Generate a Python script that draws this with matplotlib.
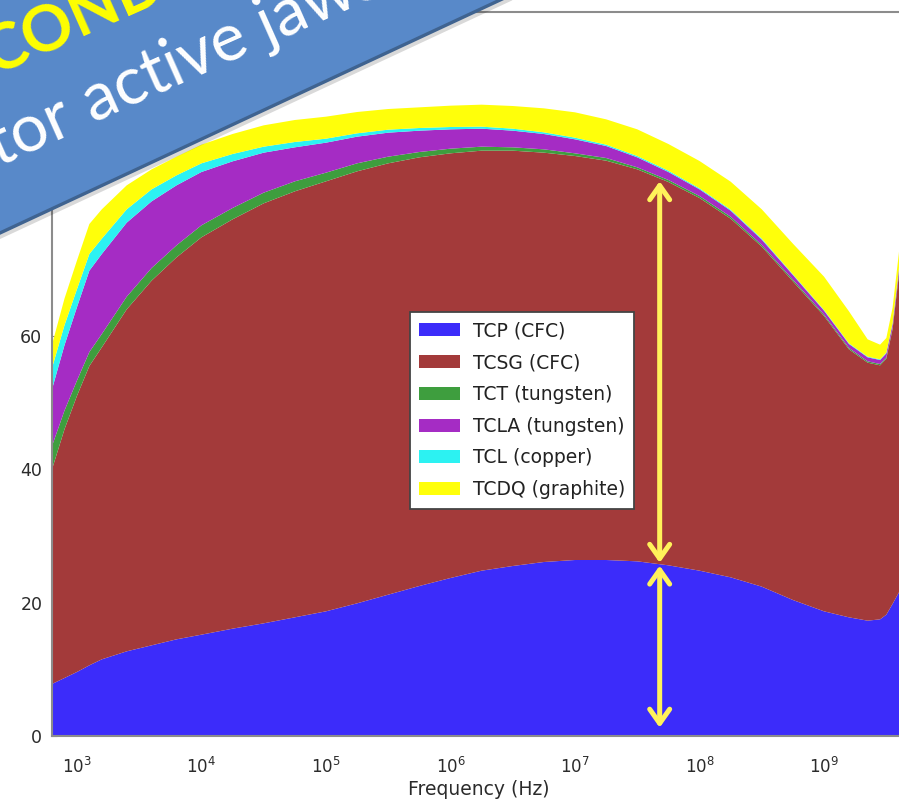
import numpy as np
import matplotlib
matplotlib.use('Agg')
import matplotlib.pyplot as plt
from matplotlib.patches import Polygon
from matplotlib.lines import Line2D
from matplotlib.transforms import Affine2D
from matplotlib.ticker import NullFormatter

# frequency grid as decade exponents
log_freq = [2.8, 2.9, 3.0, 3.1, 3.2, 3.4, 3.6, 3.8, 4.0, 4.25, 4.5, 4.75,
            5.0, 5.25, 5.5, 5.75, 6.0, 6.25, 6.5, 6.75, 7.0, 7.25, 7.5, 7.75,
            8.0, 8.25, 8.5, 8.75, 9.0, 9.2, 9.35, 9.45, 9.5, 9.55, 9.6, 9.65]

# contribution of each collimator family (stacked)
tcp = [7.8, 8.7, 9.6, 10.6, 11.5, 12.7, 13.6, 14.5, 15.2, 16.1, 16.9, 17.8,
       18.7, 19.9, 21.2, 22.5, 23.7, 24.8, 25.5, 26.1, 26.4, 26.4, 26.2, 25.6,
       24.8, 23.8, 22.4, 20.4, 18.7, 17.8, 17.3, 17.5, 18.2, 19.8, 21.5, 23.0]
tcsg = [32.2, 37.3, 41.4, 44.9, 46.8, 51.3, 54.7, 57.3, 59.6, 61.4, 63.0, 63.9,
        64.5, 64.8, 64.7, 64.3, 63.7, 63.0, 62.3, 61.4, 60.6, 59.9, 58.8, 57.5,
        55.9, 53.8, 51.0, 47.8, 44.3, 40.2, 38.7, 38.1, 38.4, 41.2, 47.5, 56.0]
tct = [3.5, 2.8, 2.3, 2.1, 2.0, 1.9, 1.9, 1.8, 1.8, 1.7, 1.6, 1.5,
       1.3, 1.2, 1.0, 0.8, 0.7, 0.6, 0.5, 0.5, 0.4, 0.4, 0.3, 0.3,
       0.3, 0.3, 0.25, 0.25, 0.2, 0.2, 0.2, 0.2, 0.2, 0.2, 0.2, 0.2]
tcla = [8.5, 9.8, 11.0, 12.2, 12.0, 11.1, 10.0, 9.0, 8.0, 7.0, 6.0, 5.1,
        4.5, 4.0, 3.6, 3.2, 2.9, 2.7, 2.5, 2.3, 2.1, 1.8, 1.5, 1.2,
        1.0, 0.9, 0.8, 0.7, 0.6, 0.6, 0.6, 0.6, 0.6, 0.6, 0.6, 0.6]
tcl = [3.2, 3.0, 2.7, 2.5, 2.3, 2.0, 1.8, 1.5, 1.3, 1.1, 0.9, 0.8,
       0.6, 0.5, 0.45, 0.4, 0.35, 0.3, 0.3, 0.25, 0.25, 0.2, 0.2, 0.2,
       0.15, 0.15, 0.15, 0.1, 0.1, 0.1, 0.1, 0.1, 0.1, 0.1, 0.1, 0.1]
tcdq = [3.5, 4.0, 4.3, 4.5, 4.4, 3.6, 3.0, 2.8, 2.8, 3.0, 3.2, 3.3,
        3.3, 3.2, 3.1, 3.1, 3.2, 3.3, 3.4, 3.6, 3.8, 3.8, 4.0, 4.0,
        4.1, 4.2, 4.4, 4.6, 5.0, 4.8, 2.6, 2.2, 2.2, 2.3, 2.4, 2.5]

labels = ['TCP (CFC)', 'TCSG (CFC)', 'TCT (tungsten)', 'TCLA (tungsten)',
          'TCL (copper)', 'TCDQ (graphite)']
colors = ['#3C2CFA', '#A33A3A', '#3E9E3E', '#A52CC4', '#2CF2F2', '#FFFF0A']

x_decades = [3, 4, 5, 6, 7, 8, 9]
y_ticks = [0, 20, 40, 60, 80, 100]
arrow_log_freq = 7.68

freq = 10.0 ** np.array(log_freq)

fig = plt.figure(figsize=(8.99, 8.02), dpi=100)
W, H = 899, 802
ax = fig.add_axes([52 / W, 66 / H, 853 / W, 724 / H])

ax.stackplot(freq, tcp, tcsg, tct, tcla, tcl, tcdq,
             colors=colors, labels=labels, linewidth=0)
ax.set_xscale('log')
ax.set_xlim(10 ** 2.8, 10 ** 9.65)
ax.set_ylim(0, 108.6)
ax.set_xticks(10.0 ** np.array(x_decades))
ax.xaxis.set_minor_formatter(NullFormatter())
ax.set_yticks(y_ticks)
ax.set_axisbelow(True)

for sp in ax.spines.values():
    sp.set_color('#8c8c8c')
    sp.set_linewidth(1.5)
ax.tick_params(which='both', direction='in', colors='#8c8c8c',
               labelcolor='#2b2b2b', labelsize=12.5)
ax.tick_params(axis='x', pad=15, labelsize=12)
ax.tick_params(axis='y', pad=7)
ax.set_xlabel('Frequency (Hz)', fontsize=13.5, color='#2b2b2b', labelpad=2)

leg = ax.legend(loc='upper left', bbox_to_anchor=((410 - 52) / 853, (736 - 312) / 724),
                borderaxespad=0, fontsize=13.5, fancybox=False, framealpha=1,
                edgecolor='#444444', borderpad=0.5, labelspacing=0.68,
                handlelength=2.15, handletextpad=0.7)
leg.get_frame().set_linewidth(1.3)
for t in leg.get_texts():
    t.set_color('#222222')

# arrows marking the TCP and TCSG shares
cum = np.cumsum(np.array([tcp, tcsg]), axis=0)
x_arrow = 10 ** arrow_log_freq
y_tcp = np.interp(arrow_log_freq, log_freq, cum[0])
y_tcsg = np.interp(arrow_log_freq, log_freq, cum[1])
astyle = dict(arrowstyle='<->,head_length=0.85,head_width=0.6', color='#FFF25A',
              lw=3.6, mutation_scale=12, shrinkA=2, shrinkB=1, capstyle='round',
              joinstyle='round')
ax.annotate('', xy=(x_arrow, y_tcp), xytext=(x_arrow, y_tcsg), arrowprops=astyle)
ax.annotate('', xy=(x_arrow, 0), xytext=(x_arrow, y_tcp),
            arrowprops=dict(astyle, shrinkA=1, shrinkB=6))

# slide banner across the top-left corner, pixel coords with y downwards
pix = Affine2D().scale(1 / W, -1 / H).translate(0, 1) + fig.transFigure
banner = Polygon([(-20, 242.3), (520, -9.3), (-20, -20)], closed=True,
                 transform=pix, facecolor='#5889C9', edgecolor='none', zorder=10)
fig.add_artist(banner)
fig.add_artist(Line2D([-20, 520], [245.3, -6.3], transform=pix, color='black',
                      alpha=0.15, lw=4, zorder=9))
fig.add_artist(Line2D([-20, 520], [242.3, -9.3], transform=pix, color='#3F6390',
                      lw=2.4, zorder=11))

angle = 24
fig.text(-6, 76, 'CONDITIONS', transform=pix, rotation=angle, rotation_mode='anchor',
         ha='left', va='baseline', fontsize=46, fontweight='bold', color='#FFFF00',
         family='Lato', zorder=12)
fig.text(76.6, 130.3, 'collimator', transform=pix, rotation=angle, rotation_mode='anchor',
         ha='right', va='baseline', fontsize=48, color='white', family='Lato', zorder=12)
fig.text(93, 123, 'active jaws', transform=pix, rotation=angle, rotation_mode='anchor',
         ha='left', va='baseline', fontsize=48, color='white', family='Lato', zorder=12)

fig.savefig('out.png', dpi=100)
